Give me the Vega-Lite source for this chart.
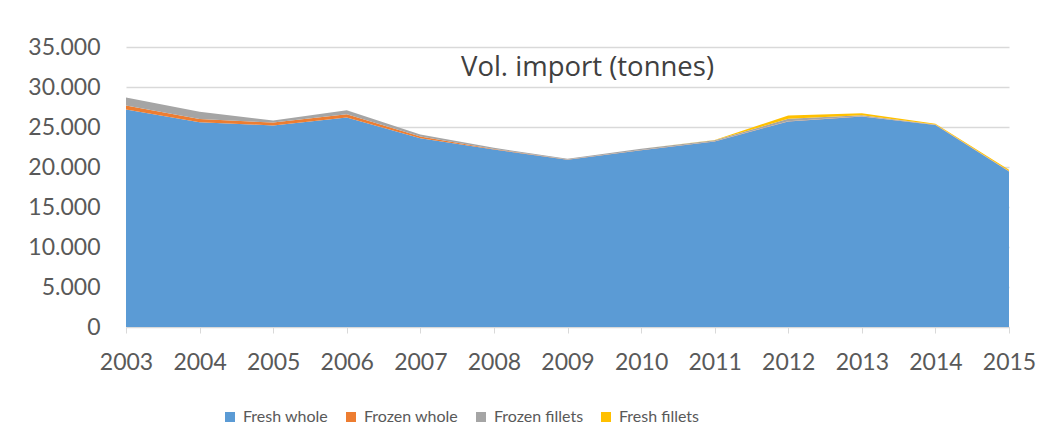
{
  "$schema": "https://vega.github.io/schema/vega-lite/v6.json",
  "width": 883,
  "height": 280,
  "autosize": {"type": "none"},
  "padding": {"left": 126, "top": 47, "right": 44, "bottom": 119},
  "background": "white",
  "config": {
    "font": "Lato",
    "view": {"stroke": null},
    "axis": {"labelColor": "#595959", "labelFontSize": 23, "titleColor": "#595959"}
  },
  "layer": [
    {
      "data": {
        "values": [
          {"year": "2003", "type": "Fresh whole", "series_order": 1, "tonnes": 27200},
          {"year": "2004", "type": "Fresh whole", "series_order": 1, "tonnes": 25600},
          {"year": "2005", "type": "Fresh whole", "series_order": 1, "tonnes": 25200},
          {"year": "2006", "type": "Fresh whole", "series_order": 1, "tonnes": 26200},
          {"year": "2007", "type": "Fresh whole", "series_order": 1, "tonnes": 23600},
          {"year": "2008", "type": "Fresh whole", "series_order": 1, "tonnes": 22200},
          {"year": "2009", "type": "Fresh whole", "series_order": 1, "tonnes": 20900},
          {"year": "2010", "type": "Fresh whole", "series_order": 1, "tonnes": 22100},
          {"year": "2011", "type": "Fresh whole", "series_order": 1, "tonnes": 23200},
          {"year": "2012", "type": "Fresh whole", "series_order": 1, "tonnes": 25700},
          {"year": "2013", "type": "Fresh whole", "series_order": 1, "tonnes": 26300},
          {"year": "2014", "type": "Fresh whole", "series_order": 1, "tonnes": 25250},
          {"year": "2015", "type": "Fresh whole", "series_order": 1, "tonnes": 19450},
          {"year": "2003", "type": "Frozen whole", "series_order": 2, "tonnes": 500},
          {"year": "2004", "type": "Frozen whole", "series_order": 2, "tonnes": 400},
          {"year": "2005", "type": "Frozen whole", "series_order": 2, "tonnes": 350},
          {"year": "2006", "type": "Frozen whole", "series_order": 2, "tonnes": 400},
          {"year": "2007", "type": "Frozen whole", "series_order": 2, "tonnes": 200},
          {"year": "2008", "type": "Frozen whole", "series_order": 2, "tonnes": 50},
          {"year": "2009", "type": "Frozen whole", "series_order": 2, "tonnes": 30},
          {"year": "2010", "type": "Frozen whole", "series_order": 2, "tonnes": 30},
          {"year": "2011", "type": "Frozen whole", "series_order": 2, "tonnes": 30},
          {"year": "2012", "type": "Frozen whole", "series_order": 2, "tonnes": 30},
          {"year": "2013", "type": "Frozen whole", "series_order": 2, "tonnes": 30},
          {"year": "2014", "type": "Frozen whole", "series_order": 2, "tonnes": 20},
          {"year": "2015", "type": "Frozen whole", "series_order": 2, "tonnes": 20},
          {"year": "2003", "type": "Frozen fillets", "series_order": 3, "tonnes": 1000},
          {"year": "2004", "type": "Frozen fillets", "series_order": 3, "tonnes": 900},
          {"year": "2005", "type": "Frozen fillets", "series_order": 3, "tonnes": 250},
          {"year": "2006", "type": "Frozen fillets", "series_order": 3, "tonnes": 500},
          {"year": "2007", "type": "Frozen fillets", "series_order": 3, "tonnes": 250},
          {"year": "2008", "type": "Frozen fillets", "series_order": 3, "tonnes": 150},
          {"year": "2009", "type": "Frozen fillets", "series_order": 3, "tonnes": 100},
          {"year": "2010", "type": "Frozen fillets", "series_order": 3, "tonnes": 150},
          {"year": "2011", "type": "Frozen fillets", "series_order": 3, "tonnes": 100},
          {"year": "2012", "type": "Frozen fillets", "series_order": 3, "tonnes": 300},
          {"year": "2013", "type": "Frozen fillets", "series_order": 3, "tonnes": 150},
          {"year": "2014", "type": "Frozen fillets", "series_order": 3, "tonnes": 50},
          {"year": "2015", "type": "Frozen fillets", "series_order": 3, "tonnes": 30},
          {"year": "2003", "type": "Fresh fillets", "series_order": 4, "tonnes": 0},
          {"year": "2004", "type": "Fresh fillets", "series_order": 4, "tonnes": 0},
          {"year": "2005", "type": "Fresh fillets", "series_order": 4, "tonnes": 0},
          {"year": "2006", "type": "Fresh fillets", "series_order": 4, "tonnes": 0},
          {"year": "2007", "type": "Fresh fillets", "series_order": 4, "tonnes": 0},
          {"year": "2008", "type": "Fresh fillets", "series_order": 4, "tonnes": 0},
          {"year": "2009", "type": "Fresh fillets", "series_order": 4, "tonnes": 0},
          {"year": "2010", "type": "Fresh fillets", "series_order": 4, "tonnes": 0},
          {"year": "2011", "type": "Fresh fillets", "series_order": 4, "tonnes": 50},
          {"year": "2012", "type": "Fresh fillets", "series_order": 4, "tonnes": 400},
          {"year": "2013", "type": "Fresh fillets", "series_order": 4, "tonnes": 250},
          {"year": "2014", "type": "Fresh fillets", "series_order": 4, "tonnes": 100},
          {"year": "2015", "type": "Fresh fillets", "series_order": 4, "tonnes": 150}
        ]
      },
      "mark": {"type": "area", "opacity": 1},
      "encoding": {
        "x": {
          "field": "year",
          "type": "ordinal",
          "scale": {"type": "point", "padding": 0},
          "axis": {
            "title": null,
            "labelAngle": 0,
            "grid": false,
            "domainColor": "#d9d9d9",
            "tickColor": "#d9d9d9",
            "tickSize": 6,
            "labelPadding": 18
          }
        },
        "y": {
          "field": "tonnes",
          "type": "quantitative",
          "stack": "zero",
          "scale": {"domain": [0, 35000]},
          "axis": {
            "title": null,
            "values": [0, 5000, 10000, 15000, 20000, 25000, 30000, 35000],
            "labelExpr": "replace(format(datum.value, ','), ',', '.')",
            "labelOverlap": false,
            "domain": false,
            "ticks": false,
            "tickSize": 0,
            "labelPadding": 26,
            "gridColor": "#d9d9d9",
            "gridWidth": 1.3
          }
        },
        "color": {
          "field": "type",
          "type": "nominal",
          "scale": {
            "domain": ["Fresh whole", "Frozen whole", "Frozen fillets", "Fresh fillets"],
            "range": ["#5B9BD5", "#ED7D31", "#A5A5A5", "#FFC000"]
          },
          "legend": {
            "title": null,
            "orient": "none",
            "legendX": 96,
            "legendY": 362,
            "direction": "horizontal",
            "columns": 4,
            "symbolType": "square",
            "symbolSize": 100,
            "symbolStrokeWidth": 0,
            "labelFontSize": 16,
            "labelColor": "#595959",
            "labelOffset": 5,
            "columnPadding": 14
          }
        },
        "order": {"field": "series_order", "type": "quantitative", "sort": "ascending"}
      }
    },
    {
      "data": {"values": [{"label": "Vol. import (tonnes)"}]},
      "mark": {
        "type": "text",
        "font": "Open Sans",
        "fontSize": 27.5,
        "fontWeight": "normal",
        "color": "#404040",
        "baseline": "middle",
        "align": "center",
        "dx": 20
      },
      "encoding": {
        "text": {"field": "label"},
        "x": {
          "datum": "2009",
          "type": "ordinal",
          "axis": {
            "title": null,
            "labelAngle": 0,
            "grid": false,
            "domainColor": "#d9d9d9",
            "tickColor": "#d9d9d9",
            "tickSize": 6,
            "labelPadding": 18
          }
        },
        "y": {
          "datum": 32400,
          "type": "quantitative",
          "axis": {
            "title": null,
            "values": [0, 5000, 10000, 15000, 20000, 25000, 30000, 35000],
            "labelExpr": "replace(format(datum.value, ','), ',', '.')",
            "labelOverlap": false,
            "domain": false,
            "ticks": false,
            "tickSize": 0,
            "labelPadding": 26,
            "gridColor": "#d9d9d9",
            "gridWidth": 1.3
          }
        }
      }
    }
  ]
}
